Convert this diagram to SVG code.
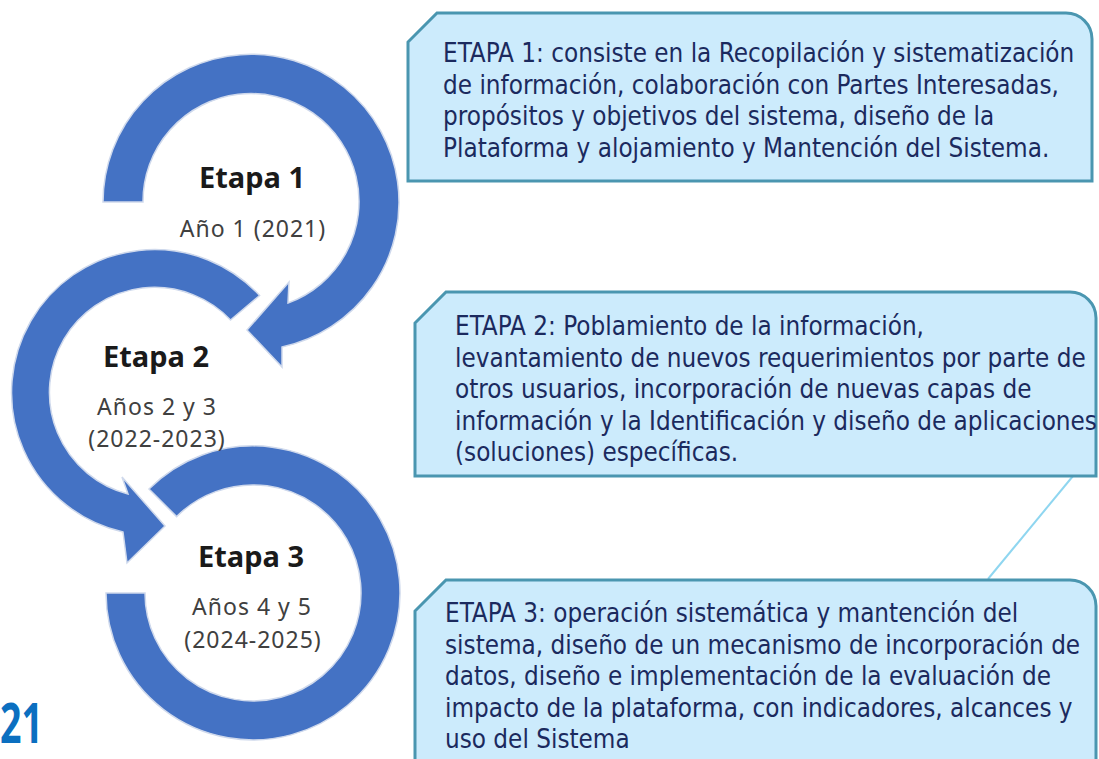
<svg xmlns="http://www.w3.org/2000/svg" width="1099" height="759" viewBox="0 0 1099 759">
<style>
.arc{fill:#4472C4;stroke:#cfd9ec;stroke-width:1.5;stroke-linejoin:miter}
.box{fill:#CCEBFC;stroke:#4A96B0;stroke-width:3}
.bt{font-family:"DejaVu Sans Condensed","DejaVu Sans",sans-serif;font-size:25.8px;fill:#1B2A5E}
.h{font-family:"Noto Sans","Open Sans",sans-serif;font-weight:bold;font-size:29px;fill:#1a1a1a;text-anchor:middle}
.s{font-family:"Noto Sans","Open Sans",sans-serif;font-size:23px;letter-spacing:1px;fill:#404040;text-anchor:middle}
</style>
<rect width="1099" height="759" fill="#ffffff"/>
<g id="connectors">
<line x1="1073" y1="476" x2="988" y2="579" stroke="#8FD6F0" stroke-width="2"/>
</g>
<g id="arrow1">
<path class="arc" d="M103,202 A148,148 0 1 1 282,347 L282,367 L247,330 L289,282 L288,303 A108,108 0 1 0 143,202 Z"/>
</g>
<g id="arrow2">
<path class="arc" d="M259.6,295.5 A143,143 0 1 0 123,532 L127,563 L165,526 L122,477 L128,494 A105,105 0 1 1 230.5,320 Z"/>
</g>
<g id="arrow3">
<path class="arc" d="M149,489 A147,147 0 1 1 106,593 L145,593 A108,108 0 1 0 176.6,516.6 Z"/>
</g>
<g id="etapa1">
<text class="h" x="252" y="188">Etapa 1</text>
<text class="s" x="253" y="237">Año 1 (2021)</text>
</g>
<g id="etapa2">
<text class="h" x="156" y="367">Etapa 2</text>
<text class="s" x="157" y="415">Años 2 y 3</text>
<text class="s" x="157" y="447">(2022-2023)</text>
</g>
<g id="etapa3">
<text class="h" x="251" y="567">Etapa 3</text>
<text class="s" x="252" y="615">Años 4 y 5</text>
<text class="s" x="253" y="648">(2024-2025)</text>
</g>
<g id="box1">
<path class="box" d="M408,181 L408,42 L437,13 L1066,13 A26,26 0 0 1 1092,39 L1092,181 Z"/>
<text class="bt" x="443" y="62">ETAPA 1: consiste en la Recopilación y sistematización</text>
<text class="bt" x="443" y="94">de información, colaboración con Partes Interesadas,</text>
<text class="bt" x="443" y="125">propósitos y objetivos del sistema, diseño de la</text>
<text class="bt" x="443" y="157">Plataforma y alojamiento y Mantención del Sistema.</text>
</g>
<g id="box2">
<path class="box" d="M415,476 L415,323 L446,292 L1070,292 A26,26 0 0 1 1096,318 L1096,476 Z"/>
<text class="bt" x="455" y="335">ETAPA 2: Poblamiento de la información,</text>
<text class="bt" x="455" y="367">levantamiento de nuevos requerimientos por parte de</text>
<text class="bt" x="455" y="398">otros usuarios, incorporación de nuevas capas de</text>
<text class="bt" x="455" y="430">información y la Identificación y diseño de aplicaciones</text>
<text class="bt" x="455" y="461">(soluciones) específicas.</text>
</g>
<g id="box3">
<path class="box" d="M415,775 L415,611 L446,580 L1070,580 A26,26 0 0 1 1096,606 L1096,775 Z"/>
<text class="bt" x="445" y="622">ETAPA 3: operación sistemática y mantención del</text>
<text class="bt" x="445" y="654">sistema, diseño de un mecanismo de incorporación de</text>
<text class="bt" x="445" y="685">datos, diseño e implementación de la evaluación de</text>
<text class="bt" x="445" y="717">impacto de la plataforma, con indicadores, alcances y</text>
<text class="bt" x="445" y="748">uso del Sistema</text>
</g>
<g id="pagenum">
<text x="0" y="743" textLength="43" lengthAdjust="spacingAndGlyphs" font-family="Noto Sans, sans-serif" font-weight="bold" font-size="56" fill="#0B6FC0">21</text>
</g>
</svg>
